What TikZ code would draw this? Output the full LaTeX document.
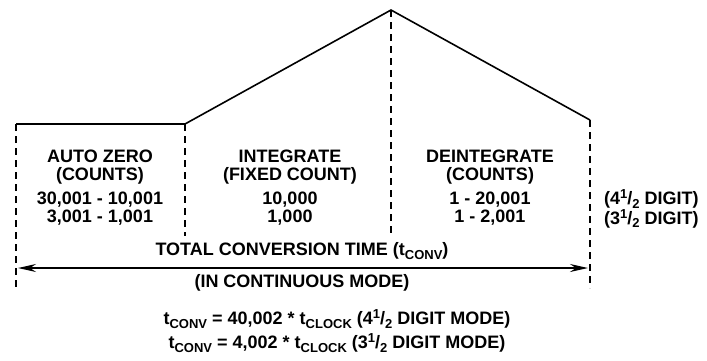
\documentclass[tikz,border=0pt]{standalone}
\usepackage{fontspec}
\setmainfont{Liberation Sans}
\usetikzlibrary{arrows.meta}
\tikzset{
  phase/.style={dash pattern=on 7pt off 5pt, line width=1.6pt},
  wave/.style={line width=1.6pt},
  lbl/.style={font=\fontsize{18}{18}\selectfont\bfseries, align=center, inner sep=0pt},
}
\newcommand{\lowtext}[1]{\raisebox{-3.5pt}{\fontsize{13}{13}\selectfont #1}}
\newcommand{\hightext}[1]{\raisebox{6pt}{\fontsize{13}{13}\selectfont #1}}
\newcommand{\halfdig}[1]{#1\hightext{1}/\lowtext{2}}
\begin{document}
\begin{tikzpicture}[x=1pt,y=-1pt]
  \useasboundingbox (0,0) rectangle (707,360);
  % waveform corners
  \coordinate (az) at (16,124);
  \coordinate (in) at (185,124);
  \coordinate (pk) at (391,10);
  \coordinate (de) at (590,120);
  \draw [line width=2.6pt] (az) -- (in);
  \draw [wave] (in) -- (pk) -- (de);
  % phase boundaries
  \draw [phase] (az) -- (16,288);
  \draw [phase] (in) -- (185,236);
  \draw [phase] (pk) -- (391,236);
  \draw [phase] (de) -- (590,288);
  % phase labels
  \node [lbl] (azt) at (100,188) {AUTO ZERO\\(COUNTS)\\[6pt]30,001 - 10,001\\3,001 - 1,001};
  \node [lbl] (int) at (290,188) {INTEGRATE\\(FIXED COUNT)\\[6pt]10,000\\1,000};
  \node [lbl] (det) at (490,188) {DEINTEGRATE\\(COUNTS)\\[6pt]1 - 20,001\\1 - 2,001};
  \node [lbl, align=left, anchor=west] (dig) at (604,209) {(\halfdig{4} DIGIT)\\(\halfdig{3} DIGIT)};
  % total time
  \node [lbl] (tot) at (302,251) {TOTAL CONVERSION TIME (t\lowtext{CONV})};
  \coordinate (ta) at (18,268);
  \coordinate (tb) at (588,268);
  \draw [wave, {Stealth[length=18pt,width=8pt]}-{Stealth[length=18pt,width=8pt]}] (ta) -- (tb);
  \node [lbl] (mode) at (302,283) {(IN CONTINUOUS MODE)};
  \node [lbl, font=\fontsize{18}{24}\selectfont\bfseries] (eq) at (337,331) {t\lowtext{CONV} = 40,002 * t\lowtext{CLOCK} (\halfdig{4} DIGIT MODE)\\t\lowtext{CONV} = 4,002 * t\lowtext{CLOCK} (\halfdig{3} DIGIT MODE)};
\end{tikzpicture}
\end{document}
